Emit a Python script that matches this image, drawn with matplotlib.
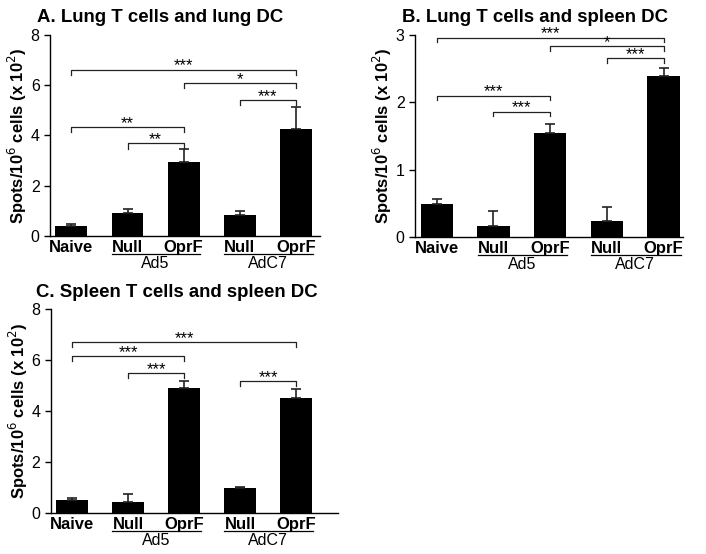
import numpy as np
import matplotlib.pyplot as plt
import matplotlib.transforms as mtransforms

plt.rcParams['font.family'] = ['Liberation Sans', 'DejaVu Sans']

# x categories
labels = ["Naive", "Null", "OprF", "Null", "OprF"]
groups = ["Ad5", "AdC7"]

# panel A: lung T cells and lung DC
a_vals = [0.38, 0.93, 2.95, 0.83, 4.25]
a_top = [0.48, 1.08, 3.45, 0.98, 5.12]
a_brackets = [(0, 4, 6.62, "***"), (2, 4, 6.08, "*"), (3, 4, 5.42, "***"),
              (0, 2, 4.35, "**"), (1, 2, 3.68, "**")]

# panel B: lung T cells and spleen DC
b_vals = [0.49, 0.17, 1.54, 0.24, 2.39]
b_top = [0.57, 0.38, 1.68, 0.45, 2.51]
b_brackets = [(0, 4, 2.96, "***"), (2, 4, 2.83, "*"), (3, 4, 2.65, "***"),
              (0, 2, 2.10, "***"), (1, 2, 1.86, "***")]

# panel C: spleen T cells and spleen DC
c_vals = [0.50, 0.42, 4.90, 0.97, 4.50]
c_top = [0.60, 0.75, 5.18, 1.02, 4.85]
c_brackets = [(0, 4, 6.70, "***"), (0, 2, 6.16, "***"), (1, 2, 5.48, "***"),
              (3, 4, 5.17, "***")]

fig = plt.figure(figsize=(7.06, 5.54), dpi=100)


def panel(rect, title, vals, top, brackets, ymax, yticks, xr, tick_h):
    ax = fig.add_axes(rect)
    x = np.arange(len(vals))
    err = np.array(top) - np.array(vals)
    ax.bar(x, vals, width=0.57, color="black")
    ax.errorbar(x, vals, yerr=[np.zeros(len(vals)), err], fmt="none",
                ecolor="#222222", elinewidth=1.2, capsize=3.7, capthick=1.2)
    ax.set_xlim(-0.38, xr)
    ax.set_ylim(0, ymax)
    ax.set_yticks(yticks)
    ax.tick_params(axis="y", labelsize=11.5, length=4, width=1, direction="out")
    ax.set_xticks(x)
    ax.set_xticklabels(labels, fontsize=12, fontweight="bold")
    ax.tick_params(axis="x", length=0, pad=3)
    for s in ["top", "right"]:
        ax.spines[s].set_visible(False)
    ax.spines["left"].set_linewidth(1)
    ax.spines["bottom"].set_linewidth(1)
    ax.set_ylabel("Spots/10$^{6}$ cells (x 10$^{2}$)", fontsize=12,
                  fontweight="bold", labelpad=1)
    ax.set_title(title, fontsize=13.4, fontweight="bold", loc="left", x=-0.05, pad=9)

    # group underlines and labels
    tr = mtransforms.blended_transform_factory(ax.transData, ax.transAxes)
    for i, g in enumerate(groups):
        x0 = 1 + 2 * i
        ax.plot([x0 - 0.28, x0 + 1.3], [-0.09, -0.09], color="black", lw=0.9,
                transform=tr, clip_on=False)
        ax.text(x0 + 0.5, -0.1, g, transform=tr, ha="center", va="top",
                fontsize=11.5)

    # significance brackets
    for i0, i1, y, s in brackets:
        ax.plot([i0, i0, i1, i1], [y - tick_h, y, y, y - tick_h], color="#222222",
                lw=0.9, clip_on=False)
        ax.text((i0 + i1) / 2, y - tick_h * 0.8, s, ha="center", va="bottom",
                fontsize=12)
    return ax


panel([0.071, 0.574, 0.382, 0.363], "A. Lung T cells and lung DC",
      a_vals, a_top, a_brackets, 8, [0, 2, 4, 6, 8], 4.43, 0.2)
panel([0.588, 0.572, 0.380, 0.365], "B. Lung T cells and spleen DC",
      b_vals, b_top, b_brackets, 3, [0, 1, 2, 3], 4.35, 0.07)
panel([0.072, 0.074, 0.407, 0.368], "C. Spleen T cells and spleen DC",
      c_vals, c_top, c_brackets, 8, [0, 2, 4, 6, 8], 4.75, 0.2)

fig.savefig("out.png", dpi=100)
